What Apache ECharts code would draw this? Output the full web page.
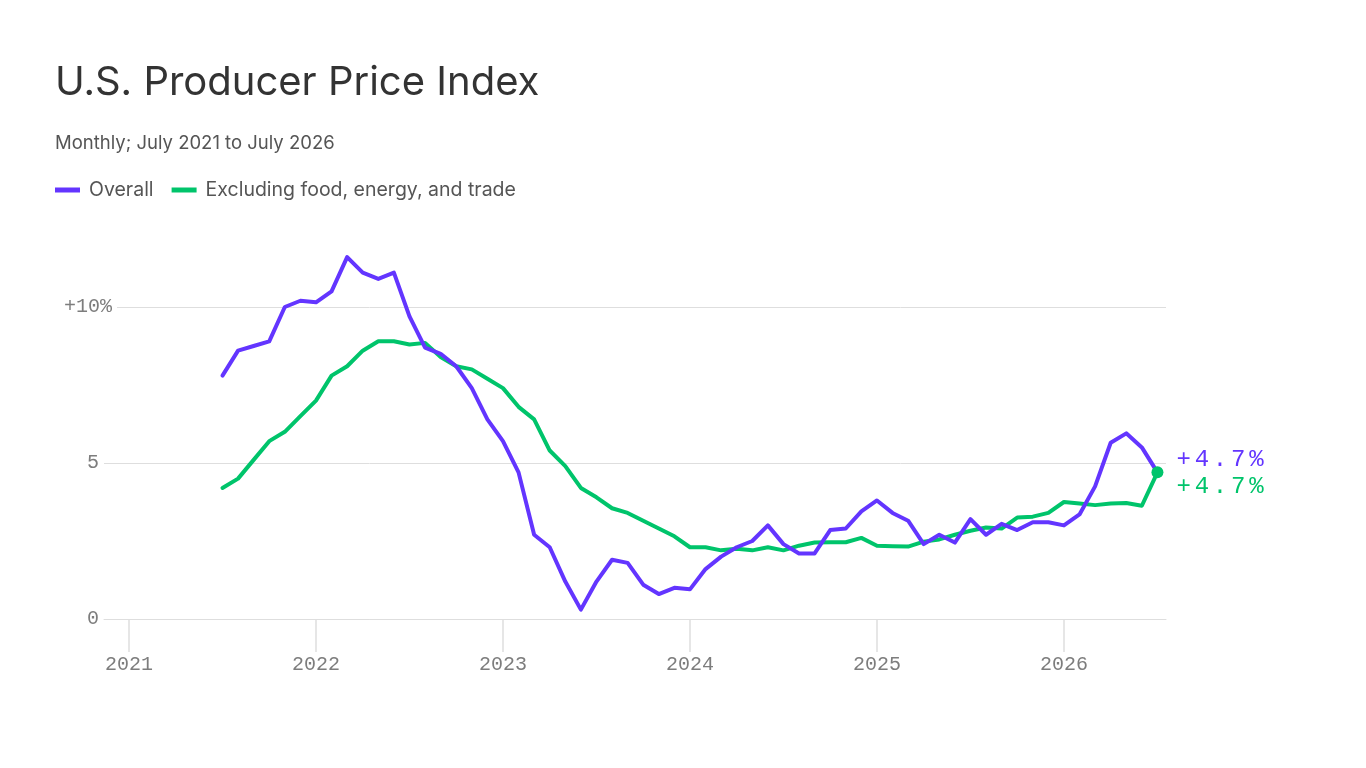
<!DOCTYPE html>
<html>
<head>
<meta charset="utf-8">
<script src="https://cdn.jsdelivr.net/npm/echarts/dist/echarts.min.js"></script>
<style>
  html, body { margin: 0; padding: 0; background: #fff; }
  #chart { width: 1366px; height: 768px; }
</style>
</head>
<body>
<div id="chart"></div>
<script>
// ---- Data ----
const months = [
  '2021-07','2021-08','2021-09','2021-10','2021-11','2021-12',
  '2022-01','2022-02','2022-03','2022-04','2022-05','2022-06','2022-07','2022-08','2022-09','2022-10','2022-11','2022-12',
  '2023-01','2023-02','2023-03','2023-04','2023-05','2023-06','2023-07','2023-08','2023-09','2023-10','2023-11','2023-12',
  '2024-01','2024-02','2024-03','2024-04','2024-05','2024-06','2024-07','2024-08','2024-09','2024-10','2024-11','2024-12',
  '2025-01','2025-02','2025-03','2025-04','2025-05','2025-06','2025-07','2025-08','2025-09','2025-10','2025-11','2025-12',
  '2026-01','2026-02','2026-03','2026-04','2026-05','2026-06','2026-07'
];
const overall = [
  7.8, 8.6, 8.75, 8.9, 10.0, 10.2,
  10.15, 10.5, 11.6, 11.1, 10.9, 11.1, 9.7, 8.7, 8.5, 8.1, 7.4, 6.4,
  5.7, 4.7, 2.7, 2.3, 1.2, 0.3, 1.2, 1.9, 1.8, 1.1, 0.8, 1.0,
  0.95, 1.6, 2.0, 2.3, 2.5, 3.0, 2.4, 2.1, 2.1, 2.85, 2.9, 3.45,
  3.8, 3.4, 3.15, 2.4, 2.7, 2.45, 3.2, 2.7, 3.05, 2.85, 3.1, 3.1,
  3.0, 3.35, 4.25, 5.65, 5.95, 5.5, 4.7
];
const excluding = [
  4.2, 4.5, 5.1, 5.7, 6.0, 6.5,
  7.0, 7.8, 8.1, 8.6, 8.9, 8.9, 8.8, 8.85, 8.4, 8.1, 8.0, 7.7,
  7.4, 6.8, 6.4, 5.4, 4.9, 4.2, 3.9, 3.55, 3.4, 3.15, 2.9, 2.65,
  2.3, 2.3, 2.2, 2.25, 2.2, 2.3, 2.2, 2.35, 2.45, 2.46, 2.46, 2.6,
  2.35, 2.33, 2.32, 2.48, 2.55, 2.7, 2.83, 2.93, 2.9, 3.25, 3.28, 3.4,
  3.75, 3.7, 3.65, 3.7, 3.72, 3.63, 4.7
];
const seriesNames = ['Overall', 'Excluding food, energy, and trade'];
const xTickValues = [0, 12, 24, 36, 48, 60];          // months since Jan 2021
const xTickLabels = ['2021', '2022', '2023', '2024', '2025', '2026'];
const yTickValues = [0, 5, 10];
const yTickLabels = ['0', '5', '+10%'];

// ---- Helpers ----
const PURPLE = '#6335ff';
const GREEN = '#00c46b';
const MONO = '"Liberation Mono", "DejaVu Sans Mono", monospace';
const SANS = 'Inter, "Noto Sans", sans-serif';

function monthIndex(m) {
  const [y, mo] = m.split('-').map(Number);
  return (y - 2021) * 12 + (mo - 1);
}
const pts = arr => arr.map((v, i) => [monthIndex(months[i]), v]);
const overallPts = pts(overall);
const excludingPts = pts(excluding);

function spaced(text, key) {
  return text.split('').map(ch => '{' + key + '|' + ch + '}').join('');
}
const fmtEnd = v => '+' + v.toFixed(1) + '%';

const chart = echarts.init(document.getElementById('chart'));
chart.setOption({
  backgroundColor: '#fff',
  animation: false,
  title: [
    {
      text: 'U.S. Producer Price Index',
      left: 55, top: 63, padding: 0,
      textStyle: { fontFamily: SANS, fontSize: 40, fontWeight: 400, color: '#333' }
    },
    {
      text: 'Monthly; July 2021 to July 2026',
      left: 55, top: 134, padding: 0,
      textStyle: { fontFamily: SANS, fontSize: 18.5, fontWeight: 400, color: '#555' }
    }
  ],
  legend: {
    left: 55, top: 180, padding: 0,
    icon: 'rect',
    itemWidth: 25, itemHeight: 5,
    itemGap: 18,
    data: [
      { name: seriesNames[0], itemStyle: { color: PURPLE } },
      { name: seriesNames[1], itemStyle: { color: GREEN } }
    ],
    formatter: name => '{t|' + name + '}',
    textStyle: {
      rich: { t: { fontFamily: SANS, fontSize: 19.5, color: '#555', padding: [0, 0, 0, 4] } }
    }
  },
  grid: { left: 104, right: 200, top: 244.6, bottom: 149, containLabel: false },
  xAxis: {
    type: 'value',
    min: -1.604, max: 66.55,
    axisLine: { show: true, lineStyle: { color: '#dedede', width: 1 } },
    axisTick: { show: true, customValues: xTickValues, length: 33, lineStyle: { color: '#dedede', width: 1.5 } },
    axisLabel: {
      customValues: xTickValues,
      formatter: v => xTickLabels[xTickValues.indexOf(v)],
      margin: 36,
      fontFamily: MONO, fontSize: 20, color: '#7d7d7d'
    },
    splitLine: { show: false }
  },
  yAxis: {
    type: 'value',
    min: 0, max: 12,
    axisLine: { show: false },
    axisTick: { show: false, customValues: yTickValues },
    axisLabel: {
      customValues: yTickValues,
      margin: -13,
      formatter: v => {
        const lbl = yTickLabels[yTickValues.indexOf(v)];
        return v === 10 ? '{a|' + lbl + '}' : '{b|' + lbl + '}';
      },
      rich: {
        a: { fontFamily: MONO, fontSize: 20, color: '#7d7d7d', backgroundColor: '#fff', padding: [2, 5, 2, 0] },
        b: { fontFamily: MONO, fontSize: 20, color: '#7d7d7d', padding: [0, 18, 0, 0] }
      }
    },
    splitLine: { show: true, lineStyle: { color: '#dedede', width: 1 } }
  },
  series: [
    {
      name: seriesNames[1],
      type: 'line',
      data: excludingPts,
      showSymbol: false,
      z: 2,
      lineStyle: { color: GREEN, width: 4, cap: 'round', join: 'round' },
      itemStyle: { color: GREEN },
      endLabel: {
        show: true,
        distance: 19,
        offset: [0, 14.5],
        formatter: p => spaced(fmtEnd(p.value[1]), 'c'),
        rich: { c: { fontFamily: MONO, fontSize: 24, color: GREEN, padding: [0, 3.8, 0, 0] } }
      }
    },
    {
      name: seriesNames[0],
      type: 'line',
      data: overallPts,
      showSymbol: false,
      z: 3,
      lineStyle: { color: PURPLE, width: 4, cap: 'round', join: 'round' },
      itemStyle: { color: PURPLE },
      endLabel: {
        show: true,
        distance: 19,
        offset: [0, -13],
        formatter: p => spaced(fmtEnd(p.value[1]), 'c'),
        rich: { c: { fontFamily: MONO, fontSize: 24, color: PURPLE, padding: [0, 3.8, 0, 0] } }
      }
    },
    {
      name: seriesNames[1],
      type: 'scatter',
      data: [excludingPts[excludingPts.length - 1]],
      symbolSize: 12,
      z: 5,
      itemStyle: { color: GREEN, opacity: 1 },
      silent: true
    }
  ]
});
</script>
</body>
</html>
